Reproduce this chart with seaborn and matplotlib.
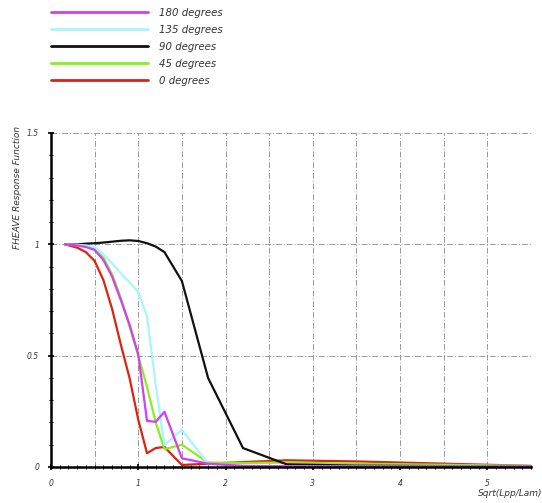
import numpy as np
import pandas as pd
import matplotlib
matplotlib.use("Agg")
import matplotlib.pyplot as plt
import seaborn as sns
from matplotlib.lines import Line2D

x = [0.16, 0.3, 0.4, 0.5, 0.6, 0.7, 0.8, 0.9, 1.0, 1.1, 1.2, 1.3, 1.5, 1.8, 2.2, 2.7, 3.5, 4.5, 5.5]
deg180 = [1.0, 0.995, 0.988, 0.975, 0.93, 0.855, 0.75, 0.64, 0.505, 0.207, 0.203, 0.248, 0.039, 0.015, 0.005, 0.003, 0.002, 0.001, 0.001]
deg135 = [1.0, 0.998, 0.995, 0.988, 0.955, 0.915, 0.87, 0.83, 0.785, 0.677, 0.37, 0.099, 0.167, 0.015, 0.005, 0.003, 0.002, 0.002, 0.002]
deg90 = [1.0, 1.0, 1.003, 1.005, 1.008, 1.012, 1.016, 1.018, 1.015, 1.005, 0.99, 0.965, 0.835, 0.40, 0.085, 0.012, 0.006, 0.004, 0.003]
deg45 = [1.0, 0.995, 0.99, 0.978, 0.94, 0.865, 0.76, 0.63, 0.50, 0.36, 0.20, 0.08, 0.10, 0.02, 0.018, 0.02, 0.015, 0.01, 0.005]
deg0 = [1.0, 0.985, 0.965, 0.925, 0.84, 0.71, 0.55, 0.40, 0.212, 0.062, 0.085, 0.09, 0.009, 0.015, 0.022, 0.03, 0.025, 0.015, 0.005]

labels = ["180 degrees", "135 degrees", "90 degrees", "45 degrees", "0 degrees"]
series = [deg180, deg135, deg90, deg45, deg0]
colors = ["#d23ff0", "#a8f4ff", "#111111", "#88ee22", "#dd2211"]

df = pd.DataFrame({
    "x": np.tile(x, len(labels)),
    "y": np.concatenate(series),
    "dir": np.repeat(labels, len(x)),
})

sns.set_style("white")
fig = plt.figure(figsize=(5.42, 5.03), dpi=100)
ax = fig.add_axes([51/542, 1-467/503, (531-51)/542, (467-133)/503])

draw_order = ["0 degrees", "45 degrees", "90 degrees", "135 degrees", "180 degrees"]
pal = dict(zip(labels, colors))
sns.lineplot(data=df, x="x", y="y", hue="dir", hue_order=draw_order,
             palette=pal, lw=1.6, legend=False, ax=ax, estimator=None, sort=False)

ax.set_xlim(0, 5.5)
ax.set_ylim(0, 1.5)

gstyle = dict(color="#999999", lw=0.7, dashes=(6, 2, 1, 2), zorder=0)
for gx in np.arange(0.5, 5.51, 0.5):
    ax.axvline(gx, **gstyle)
for gy in [0.5, 1.0, 1.5]:
    ax.axhline(gy, **gstyle)

for s in ["top", "right"]:
    ax.spines[s].set_visible(False)
for s in ["left", "bottom"]:
    ax.spines[s].set_color("black")
    ax.spines[s].set_linewidth(1.8)

ax.set_xticks([0, 1, 2, 3, 4, 5])
ax.set_xticklabels(["0", "1", "2", "3", "4", "5"])
ax.set_yticks([0, 0.5, 1, 1.5])
ax.set_yticklabels(["0", "0.5", "1", "1.5"])
ax.set_xticks(np.arange(0, 5.51, 0.1), minor=True)
ax.set_yticks(np.arange(0, 1.51, 0.1), minor=True)
ax.tick_params(axis="both", which="both", bottom=True, left=True, top=False, right=False)
ax.tick_params(axis="both", which="major", direction="inout", length=5, width=1.2,
               labelsize=5.5, colors="black", pad=6)
ax.tick_params(axis="both", which="minor", direction="inout", length=3, width=0.8,
               colors="black")
for t in ax.get_xticklabels() + ax.get_yticklabels():
    t.set_fontstyle("italic")
    t.set_color("#333333")
ax.set_xlabel("")
ax.set_ylabel("")

fig.text(18/542, 1-187/503, "FHEAVE Response Function", rotation=90, fontsize=6.5,
         style="italic", color="#333333", ha="center", va="center")
fig.text(510/542, 1-493/503, "Sqrt(Lpp/Lam)", fontsize=6.5, style="italic",
         color="#333333", ha="center", va="center")

hs = [Line2D([], [], color=c, lw=2) for c in colors]
leg = fig.legend(hs, labels, loc="upper left", bbox_to_anchor=(51/542, 1-8/503),
                 frameon=False, fontsize=7.3, handlelength=9.6, handletextpad=1.1,
                 labelspacing=0.68, borderpad=0, borderaxespad=0)
for t in leg.get_texts():
    t.set_fontstyle("italic")
    t.set_color("#333333")

fig.savefig("out.png", dpi=100)
